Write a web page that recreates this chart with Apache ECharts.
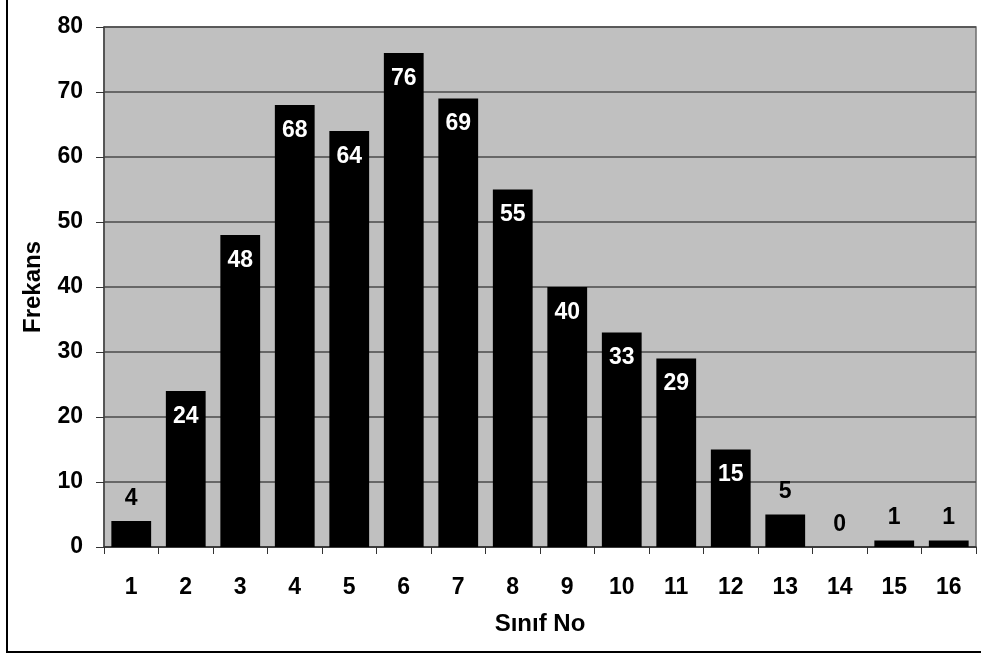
<!DOCTYPE html>
<html>
<head>
<meta charset="utf-8">
<script src="https://cdn.jsdelivr.net/npm/echarts@6/dist/echarts.min.js"></script>
<style>
  html, body { margin: 0; padding: 0; background: #fff; }
  #chart { width: 981px; height: 656px; }
</style>
</head>
<body>
<div id="chart"></div>
<script>
// Class numbers and their frequencies
const classNumbers = ['1','2','3','4','5','6','7','8','9','10','11','12','13','14','15','16'];
const frequencies = [4, 24, 48, 68, 64, 76, 69, 55, 40, 33, 29, 15, 5, 0, 1, 1];
const yTicks = [0, 10, 20, 30, 40, 50, 60, 70, 80];

const FONT = '"Liberation Sans", Arial, sans-serif';

// Short bars carry their value above the bar; tall bars show it inside in white
const barData = frequencies.map(v => {
  const small = v < 10;
  return {
    value: v,
    label: small
      ? { position: 'top', distance: 11, color: '#000' }
      : { position: 'insideTop', distance: 14, color: '#fff' }
  };
});

const chart = echarts.init(document.getElementById('chart'), null, { renderer: 'canvas' });
chart.setOption({
  animation: false,
  backgroundColor: '#fff',
  graphic: [{
    type: 'rect',
    shape: { x: 7, y: -10, width: 1000, height: 662 },
    style: { fill: 'none', stroke: '#000', lineWidth: 2 },
    silent: true
  }],
  grid: {
    left: 104, right: 5, top: 27, bottom: 109,
    show: true,
    backgroundColor: '#c0c0c0',
    borderColor: '#6e6e6e',
    borderWidth: 1.5
  },
  xAxis: {
    type: 'category',
    data: classNumbers,
    name: 'Sınıf No',
    nameLocation: 'middle',
    nameGap: 65,
    nameTextStyle: { fontFamily: FONT, fontWeight: 'bold', fontSize: 24, color: '#000', verticalAlign: 'top' },
    axisLine: { show: true, lineStyle: { color: '#333', width: 1.5 } },
    axisTick: { show: true, alignWithLabel: false, length: 7, lineStyle: { color: '#333' } },
    axisLabel: { margin: 29, fontFamily: FONT, fontWeight: 'bold', fontSize: 23, color: '#000' },
    splitLine: { show: false }
  },
  yAxis: {
    type: 'value',
    min: yTicks[0],
    max: yTicks[yTicks.length - 1],
    interval: 10,
    name: 'Frekans',
    nameLocation: 'middle',
    nameGap: 71,
    nameRotate: 90,
    nameTextStyle: { fontFamily: FONT, fontWeight: 'bold', fontSize: 24, color: '#000', verticalAlign: 'middle' },
    axisLine: { show: true, lineStyle: { color: '#444', width: 1.5 } },
    axisTick: { show: true, inside: false, length: 8, lineStyle: { color: '#333' } },
    axisLabel: { margin: 21, fontFamily: FONT, fontWeight: 'bold', fontSize: 23, color: '#000' },
    splitLine: { show: true, lineStyle: { color: '#4a4a4a', width: 1.5 } }
  },
  series: [{
    type: 'bar',
    data: barData,
    barCategoryGap: '27%',
    itemStyle: { color: '#000' },
    label: {
      show: true,
      fontFamily: FONT,
      fontWeight: 'bold',
      fontSize: 23
    }
  }]
});
</script>
</body>
</html>
